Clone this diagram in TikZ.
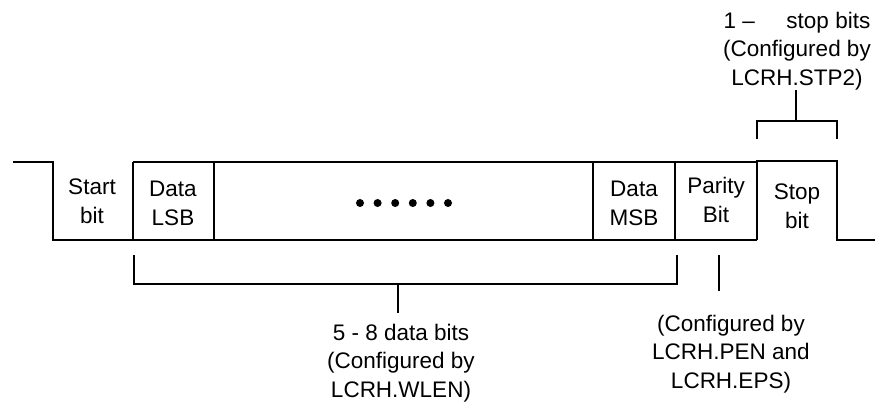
\documentclass[tikz,border=0pt]{standalone}
\usepackage{fontspec}
\setmainfont{Liberation Sans}
\begin{document}
\begin{tikzpicture}[x=1pt,y=-1pt,
  wave/.style={line width=2.4pt, line join=miter},
  bracket/.style={line width=1.5pt},
  lbl/.style={font=\fontsize{22.5}{28.5}\selectfont, align=center, inner sep=0pt, anchor=base},
  dot/.style={circle, fill=black, inner sep=0pt, minimum size=8pt}]
\useasboundingbox (0,0) rectangle (875,404);
% waveform
\draw[wave] (13,162) -- (53,162) -- (53,240) -- (757,240);
\draw[wave] (133,162) -- (757,162);
\draw[wave] (757,240) -- (757,161) -- (837,161) -- (837,240) -- (875,240);
\foreach \x in {133,214,593,675} \draw[wave] (\x,162) -- (\x,240);
% box labels (base = baseline of last line)
\node[lbl] (start) at (92,223) {Start\\bit};
\node[lbl] (lsb) at (173,225) {Data\\LSB};
\node[lbl] (msb) at (634,225) {Data\\MSB};
\node[lbl] (par) at (716,222) {Parity\\Bit};
\node[lbl] (stop) at (797,228) {Stop\\bit};
\foreach \i in {0,...,5} \node[dot] (d\i) at (360+17.6*\i,203) {};
% stop bracket
\coordinate (sl) at (757,139);
\coordinate (sr) at (837,139);
\coordinate (stm) at (796,121);
\coordinate (stt) at (796,90);
\draw[bracket] (sl) -- (757,121) -- (837,121) -- (sr);
\draw[bracket] (stm) -- (stt);
\node[lbl] (stoplbl) at (797,85) {1 –\hspace*{1.4em}stop bits\\(Configured by\\LCRH.STP2)};
% data bracket
\coordinate (dl) at (134,255);
\coordinate (dr) at (677,255);
\coordinate (dm) at (398,284);
\coordinate (db) at (398,313);
\draw[bracket] (dl) -- (134,284) -- (677,284) -- (dr);
\draw[bracket] (dm) -- (db);
\node[lbl] (datalbl) at (401,397) {5 - 8 data bits\\(Configured by\\LCRH.WLEN)};
% parity
\coordinate (pt) at (719,255);
\coordinate (pb) at (719,291);
\draw[bracket] (pt) -- (pb);
\node[lbl] (parlbl) at (731,388) {(Configured by\\LCRH.PEN and\\LCRH.EPS)};
\end{tikzpicture}
\end{document}
